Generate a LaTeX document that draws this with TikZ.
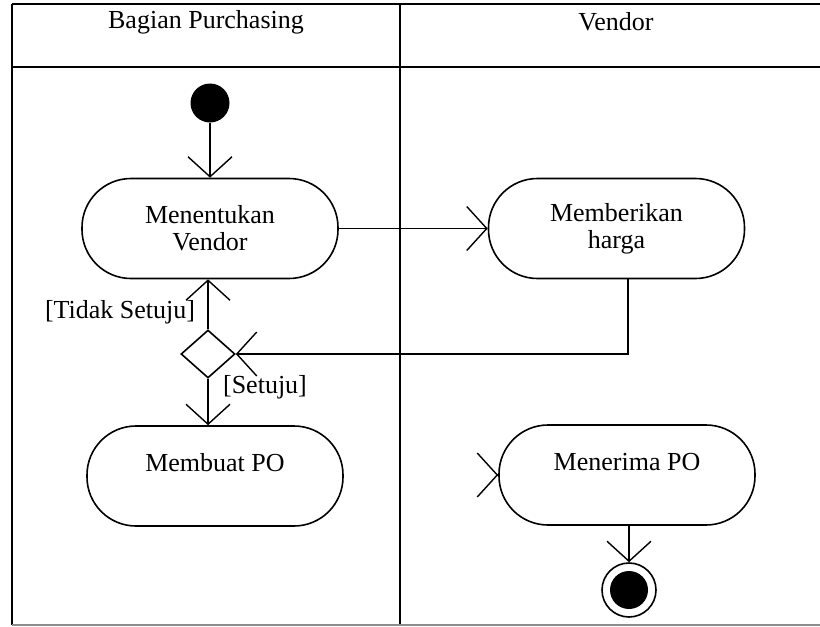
\documentclass[tikz,border=0pt]{standalone}
\usepackage{fontspec}
\setmainfont{Liberation Serif}
\usetikzlibrary{arrows.meta,shapes.geometric}
\begin{document}
\begin{tikzpicture}[x=0.5pt,y=-0.5pt,
  font=\fontsize{13}{13.5}\selectfont,
  act/.style={draw, line width=0.8pt, rounded corners=24.5pt, minimum width=128pt, minimum height=50pt, inner sep=0pt, align=center},
  arr/.style={line width=0.8pt, -{Straight Barb[length=10pt,width=22pt,line width=0.7pt]}},
  lane/.style={line width=1.1pt},
  lbl/.style={inner sep=0pt}
]
\useasboundingbox (0,0) rectangle (820,627);
% swimlanes
\coordinate (tl) at (12,4);
\coordinate (tr) at (820,4);
\coordinate (hl) at (12,67);
\coordinate (hr) at (820,67);
\coordinate (bl) at (12,625);
\coordinate (br) at (820,625);
\coordinate (dt) at (400,4);
\coordinate (db) at (400,625);
\draw[lane] (tl) -- (tr);
\draw[lane] (hl) -- (hr);
\draw[lane] (tl) -- (bl);
\draw[lane] (dt) -- (db);
\draw[lane, draw=black!45] (bl) -- (br);
\node[lbl] (h1) at (206,22) {Bagian Purchasing};
\node[lbl] (h2) at (616,22) {Vendor};
% nodes
\node[circle, fill=black, minimum size=19.5pt, inner sep=0pt] (init) at (210,103) {};
\node[act] (ment) at (210,228.5) {Menentukan\\Vendor};
\node[act] (memb) at (616.5,228.5) {Memberikan\\harga};
\node[diamond, draw, line width=0.8pt, minimum width=27pt, minimum height=24pt, inner sep=0pt] (dia) at (208,354) {};
\node[act] (mbuat) at (215,476) {Membuat PO\\\mbox{}};
\node[act] (mner) at (627,475) {Menerima PO\\\mbox{}};
\node[circle, draw, line width=0.8pt, minimum size=27pt, inner sep=0pt] (fin) at (629,590) {};
\node[circle, fill=black, minimum size=19pt, inner sep=0pt] (fini) at (629,590) {};
\node[lbl] (ltidak) at (120,312) {[Tidak Setuju]};
\node[lbl] (lsetuju) at (265,387) {[Setuju]};
\coordinate (c1) at (628,354);
% connectors
\draw[arr] (init) -- (init |- ment.north);
\draw[arr] (ment) -- (memb);
\draw[arr] (memb.south -| c1) -- (c1) -- (dia.east);
\draw[arr] (dia.north) -- (dia.north |- ment.south);
\draw[arr] (dia.south) -- (dia.south |- mbuat.north);
\draw[arr] ([xshift=-0.2pt]mner.west) -- (mner.west);
\draw[arr] (mner.south -| fin.north) -- (fin.north);
\end{tikzpicture}
\end{document}
